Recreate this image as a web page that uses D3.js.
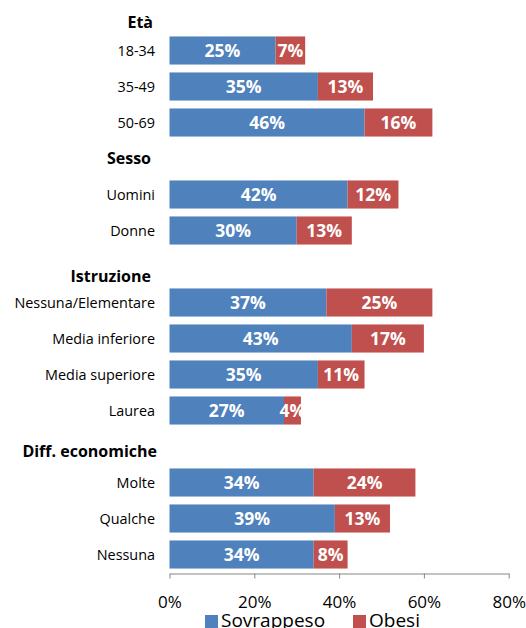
<!DOCTYPE html>
<html>
<head>
<meta charset="utf-8">
<script src="https://cdn.jsdelivr.net/npm/d3@7"></script>
<style>
  body { margin: 0; background: #fff; }
  text { font-family: "Open Sans", sans-serif; }
</style>
</head>
<body>
<script>
// rows of the chart, headers included (they get no bar)
let rows = ['Età', '18-34', '35-49', '50-69',
            'Sesso', 'Uomini', 'Donne',
            'Istruzione', 'Nessuna/Elementare', 'Media inferiore', 'Media superiore', 'Laurea',
            'Diff. economiche', 'Molte', 'Qualche', 'Nessuna'];
let headers = ['Età', 'Sesso', 'Istruzione', 'Diff. economiche'];
let categories = ['18-34', '35-49', '50-69', 'Uomini', 'Donne',
                  'Nessuna/Elementare', 'Media inferiore', 'Media superiore', 'Laurea',
                  'Molte', 'Qualche', 'Nessuna'];
let sovrappeso = [25, 35, 46, 42, 30, 37, 43, 35, 27, 34, 39, 34];
let obesi = [7, 13, 16, 12, 13, 25, 17, 11, 4, 24, 13, 8];
let ticks = [0, 20, 40, 60, 80];
let seriesNames = ['Sovrappeso', 'Obesi'];
let colors = ['#4f81bd', '#c0504d'];

// small nudges for the header text boxes [dx, dy]
let headerNudge = {'Età': [-2, 8], 'Sesso': [-4, 0], 'Istruzione': [-4, 10], 'Diff. economiche': [2, 5]};

let width = 526, height = 628;
let svg = d3.select('body').append('svg').attr('width', width).attr('height', height);

let x = d3.scaleLinear().domain([0, 80]).range([169.5, 508.7]);
let y = d3.scaleBand().domain(rows).range([-3.5, 572.5]).paddingInner(0.22).paddingOuter(0.11);

let data = categories.map(function(c, i) {
  return {cat: c, vals: [sovrappeso[i], obesi[i]]};
});

let stack = d3.stack().keys([0, 1]).value(function(d, k) { return d.vals[k]; });
let layers = stack(data);

let g = svg.append('g');
layers.forEach(function(layer, k) {
  let lg = g.append('g');
  lg.selectAll('rect').data(layer).enter().append('rect')
    .attr('x', function(d) { return x(d[0]); })
    .attr('y', function(d) { return y(d.data.cat); })
    .attr('width', function(d) { return x(d[1]) - x(d[0]); })
    .attr('height', y.bandwidth())
    .attr('fill', colors[k]);
  lg.selectAll('text').data(layer).enter().append('text')
    .attr('x', function(d) { return (x(d[0]) + x(d[1])) / 2; })
    .attr('y', function(d) { return y(d.data.cat) + y.bandwidth() / 2; })
    .attr('dy', '0.36em')
    .attr('text-anchor', 'middle')
    .attr('fill', '#fff')
    .attr('font-weight', 'bold')
    .attr('font-size', '17.5px')
    .text(function(d) { return d.data.vals[k] + '%'; });
});

// category labels
svg.append('g').selectAll('text').data(categories).enter().append('text')
  .attr('x', 155)
  .attr('y', function(d) { return y(d) + y.bandwidth() / 2; })
  .attr('dy', '0.36em')
  .attr('text-anchor', 'end')
  .attr('font-size', '14.4px')
  .attr('fill', '#000')
  .text(function(d) { return d; });

// group headers
svg.append('g').selectAll('text').data(headers).enter().append('text')
  .attr('x', function(d) { return 155 + headerNudge[d][0]; })
  .attr('y', function(d) { return y(d) + y.bandwidth() / 2 + headerNudge[d][1]; })
  .attr('dy', '0.36em')
  .attr('text-anchor', 'end')
  .attr('font-size', '16px')
  .attr('font-weight', 'bold')
  .attr('fill', '#000')
  .text(function(d) { return d; });

// x axis
let axis = svg.append('g')
  .attr('transform', 'translate(0,573.5)')
  .call(d3.axisBottom(x).tickValues(ticks).tickSize(5).tickSizeOuter(0)
    .tickFormat(function(d) { return d + '%'; }));
axis.select('.domain').attr('stroke', '#868686');
axis.selectAll('.tick line').attr('stroke', '#868686');
axis.selectAll('.tick text')
  .attr('y', 22)
  .attr('font-family', '"Open Sans", sans-serif')
  .attr('font-size', '17px')
  .attr('fill', '#000');

// legend
let legendX = [205, 353];
let legend = svg.append('g').selectAll('g').data(seriesNames).enter().append('g')
  .attr('transform', function(d, i) { return 'translate(' + legendX[i] + ',615)'; });
legend.append('rect').attr('width', 13).attr('height', 13)
  .attr('fill', function(d, i) { return colors[i]; });
legend.append('text')
  .attr('x', 16).attr('y', 12)
  .attr('font-size', '19px')
  .attr('fill', '#000')
  .text(function(d) { return d; });
</script>
</body>
</html>
